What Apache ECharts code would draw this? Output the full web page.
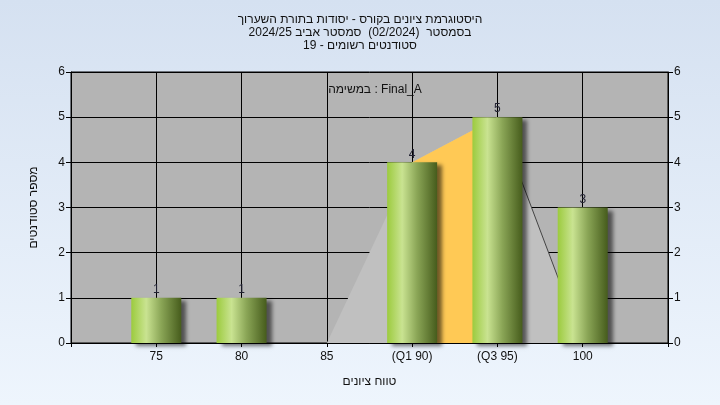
<!DOCTYPE html>
<html><head><meta charset="utf-8">
<script src="https://cdn.jsdelivr.net/npm/echarts@6/dist/echarts.min.js"></script>
<style>html,body{margin:0;padding:0;}#c{width:720px;height:405px;background:linear-gradient(#d5e1f1,#eef5fd);}</style>
</head><body><div id="c"></div>
<script>
const categories = ['', '75', '80', '85', '(Q1 90)', '(Q3 95)', '100', ''];
const counts = ['-', 1, 1, '-', 4, 5, 3, '-'];
const distGray = ['-', '-', '-', 0, 4, 5, 0, '-'];
const distOrange = ['-', '-', '-', '-', 4, 5, '-', '-'];
const distLine = ['-', '-', '-', '-', '-', 5, 0, '-'];
const titleLines = ['היסטוגרמת ציונים בקורס - יסודות בתורת השערוך', 'בסמסטר  (02/2024)  סמסטר אביב 2024/25', 'סטודנטים רשומים - 19'];
const subTitle = 'במשימה : Final_A';
const xName = 'טווח ציונים';
const yName = 'מספר סטודנטים';

const FONT = 'Liberation Sans, DejaVu Sans, sans-serif';
const chart = echarts.init(document.getElementById('c'));
const barGrad = new echarts.graphic.LinearGradient(0, 0, 1, 0, [
  {offset: 0, color: '#9ccb3e'},
  {offset: 0.3, color: '#c9e391'},
  {offset: 0.6, color: '#8aa556'},
  {offset: 1, color: '#465c1c'}
]);
chart.setOption({
  backgroundColor: 'transparent',
  animation: false,
  title: [{
    text: titleLines.join('\n'), left: 'center', top: 8,
    textStyle: {fontFamily: FONT, fontSize: 12, fontWeight: 'normal', color: '#111', lineHeight: 13}
  }, {
    text: subTitle, left: 370, top: 79, textAlign: 'center',
    textStyle: {fontFamily: FONT, fontSize: 12, fontWeight: 'normal', color: '#111'}
  }],
  grid: {left: 71, right: 52, top: 72, bottom: 62, show: true, backgroundColor: '#b4b4b4', borderColor: '#000', borderWidth: 1},
  xAxis: {
    type: 'category', data: categories, boundaryGap: false,
    name: xName, nameLocation: 'middle', nameGap: 33,
    nameTextStyle: {fontFamily: FONT, fontSize: 12, color: '#111'},
    axisLine: {lineStyle: {color: '#000'}},
    axisTick: {show: true, length: 4, lineStyle: {color: '#000'}},
    axisLabel: {fontFamily: FONT, fontSize: 12, color: '#111', margin: 8, interval: 0},
    splitLine: {show: true, lineStyle: {color: '#000', width: 1}}
  },
  yAxis: [{
    type: 'value', min: 0, max: 6, interval: 1,
    name: yName, nameLocation: 'middle', nameGap: 31, nameRotate: 90,
    nameTextStyle: {fontFamily: FONT, fontSize: 12, color: '#111'},
    axisLine: {show: true, lineStyle: {color: '#000'}},
    axisTick: {show: true, length: 5, lineStyle: {color: '#000'}},
    axisLabel: {fontFamily: FONT, fontSize: 12, color: '#111', margin: 6},
    splitLine: {show: true, lineStyle: {color: '#000', width: 1}}
  }, {
    type: 'value', min: 0, max: 6, interval: 1, position: 'right',
    axisLine: {show: true, lineStyle: {color: '#000'}},
    axisTick: {show: true, length: 5, lineStyle: {color: '#000'}},
    axisLabel: {fontFamily: FONT, fontSize: 12, color: '#111', margin: 6},
    splitLine: {show: false}
  }],
  series: [{
    type: 'line', data: distGray, symbol: 'none', z: 1,
    lineStyle: {width: 0},
    areaStyle: {color: '#c0c0c0', opacity: 1}
  }, {
    type: 'line', data: distOrange, symbol: 'none', z: 2,
    lineStyle: {width: 0},
    areaStyle: {color: '#ffc955', opacity: 1}
  }, {
    type: 'line', data: distLine, symbol: 'none', z: 3,
    lineStyle: {width: 1, color: '#444'}
  }, {
    type: 'bar', data: counts, barWidth: 50, z: 5,
    itemStyle: {color: barGrad, shadowColor: 'rgba(0,0,0,0.55)', shadowBlur: 4, shadowOffsetX: 5, shadowOffsetY: 3},
    label: {show: true, position: 'top', distance: 2, fontFamily: FONT, fontSize: 12, color: '#223'}
  }]
});
</script></body></html>
